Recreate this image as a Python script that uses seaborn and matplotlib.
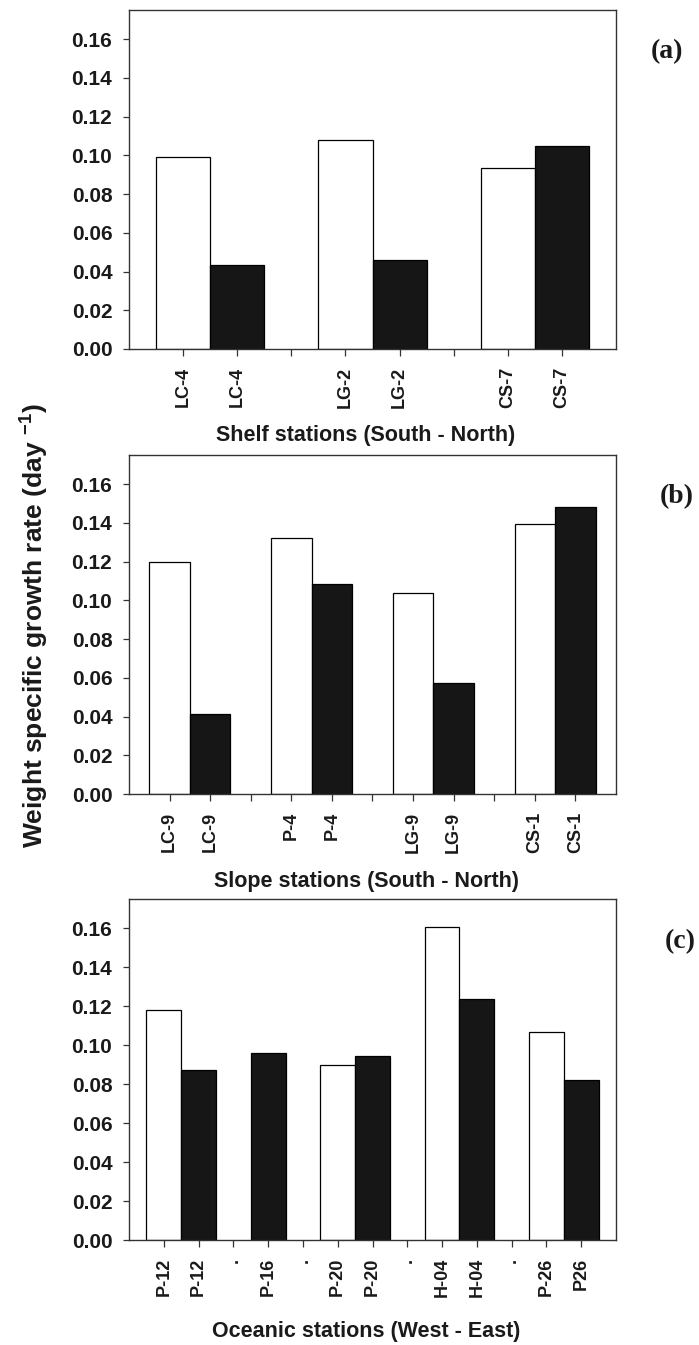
import matplotlib
matplotlib.use("Agg")
import numpy as np
import pandas as pd
import matplotlib.pyplot as plt
import seaborn as sns

# ---------------- data ----------------
shelf_labels = ["LC-4", "LC-4", "", "LG-2", "LG-2", "", "CS-7", "CS-7"]
shelf_values = [0.0993, 0.0432, np.nan, 0.1081, 0.0460, np.nan, 0.0936, 0.1046]
shelf_fill = ["white", "black", "", "white", "black", "", "white", "black"]

slope_labels = ["LC-9", "LC-9", "", "P-4", "P-4", "", "LG-9", "LG-9", "", "CS-1", "CS-1"]
slope_values = [0.1197, 0.0415, np.nan, 0.1320, 0.1084, np.nan, 0.1040, 0.0572,
                np.nan, 0.1395, 0.1480]
slope_fill = ["white", "black", "", "white", "black", "", "white", "black", "",
              "white", "black"]

oceanic_labels = ["P-12", "P-12", ".", "P-16", ".", "P-20", "P-20", ".", "H-04",
                  "H-04", ".", "P-26", "P26"]
oceanic_values = [0.1179, 0.0874, np.nan, 0.0961, np.nan, 0.0896, 0.0946, np.nan,
                  0.1605, 0.1236, np.nan, 0.1070, 0.0822]
oceanic_fill = ["white", "black", "", "black", "", "white", "black", "", "white",
                "black", "", "white", "black"]

y_ticks = [0.00, 0.02, 0.04, 0.06, 0.08, 0.10, 0.12, 0.14, 0.16]

panel_titles = ["Shelf stations (South - North)",
                "Slope stations (South - North)",
                "Oceanic stations (West - East)"]
panel_tags = ["(a)", "(b)", "(c)"]
y_label = r"Weight specific growth rate (day $^{\mathbf{-1}}$)"

# ---------------- style ----------------
sns.set_theme(style="white")
plt.rcParams["font.family"] = ["Liberation Sans", "DejaVu Sans"]
plt.rcParams["mathtext.fontset"] = "custom"
plt.rcParams["mathtext.bf"] = "Liberation Sans:bold"
plt.rcParams["mathtext.rm"] = "Liberation Sans"

W, H = 699, 1345
fig = plt.figure(figsize=(W / 100, H / 100), dpi=100)
fig.patch.set_facecolor("white")

palette = {"white": "white", "black": "#161616"}

# axes boxes in pixels: left, right, top, bottom
boxes = [(129, 616, 10, 349), (129, 616, 455, 794), (129, 616, 899, 1240)]
title_y = [435, 882, 1332]
tag_pos = [(667, 52), (677, 497), (680, 942)]

panels = [(shelf_labels, shelf_values, shelf_fill),
          (slope_labels, slope_values, slope_fill),
          (oceanic_labels, oceanic_values, oceanic_fill)]

for i, (labels, values, fills) in enumerate(panels):
    l, r, t, b = boxes[i]
    ax = fig.add_axes([l / W, 1 - b / H, (r - l) / W, (b - t) / H])
    n = len(labels)
    df = pd.DataFrame({"slot": [str(k) for k in range(n)],
                       "value": values, "fill": fills})
    df = df.dropna(subset=["value"])
    sns.barplot(data=df, x="slot", y="value", hue="fill",
                order=[str(k) for k in range(n)],
                hue_order=["white", "black"], palette=palette,
                dodge=False, width=1.0, edgecolor="black", linewidth=0.9,
                errorbar=None, legend=False, ax=ax)
    ax.set_xlim(-1, n)
    ax.set_ylim(0, 0.175)
    ax.set_xticks(range(n))
    ax.set_xticklabels(labels, rotation=90, fontweight="bold", fontsize=13,
                       color="#1a1a1a")
    ax.set_yticks(y_ticks)
    ax.set_yticklabels([f"{v:.2f}" for v in y_ticks], fontweight="bold",
                       fontsize=15, color="#1a1a1a")
    ax.tick_params(axis="x", direction="out", length=5, width=0.9,
                   color="#333333", pad=8, bottom=True)
    ax.tick_params(axis="y", direction="out", length=4.5, width=0.9,
                   color="#333333", pad=7.5, left=True)
    for sp in ax.spines.values():
        sp.set_visible(True)
        sp.set_color("#333333")
        sp.set_linewidth(1.0)
    ax.set_xlabel("")
    ax.set_ylabel("")
    ax.grid(False)

    fig.text(366 / W, 1 - title_y[i] / H, panel_titles[i], ha="center",
             va="center", fontsize=15.5, fontweight="bold", color="#1a1a1a")
    tx, ty = tag_pos[i]
    fig.text(tx / W, 1 - ty / H, panel_tags[i], ha="center", va="center",
             fontsize=20, fontweight="bold", family="Liberation Serif",
             color="#1a1a1a")

fig.text(34 / W, 1 - 626 / H, y_label, rotation=90, ha="center", va="center",
         fontsize=19, fontweight="bold", color="#1a1a1a")

fig.savefig("out.png", dpi=100, facecolor="white")
